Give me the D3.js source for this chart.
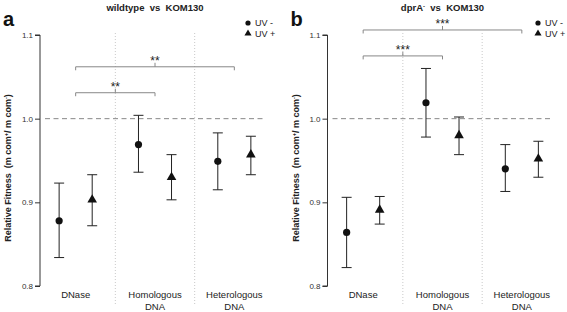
<!DOCTYPE html>
<html><head><meta charset="utf-8">
<script src="https://cdn.jsdelivr.net/npm/d3@7"></script>
<style>body{margin:0;background:#fff}svg{display:block;font-family:"Liberation Sans",Arial,sans-serif}</style>
</head><body><svg id="c" width="567" height="312"></svg>
<script>
const groups = ["DNase", "Homologous DNA", "Heterologous DNA"];
const treatments = ["UV -", "UV +"];
const yTicks = [0.8, 0.9, 1.0, 1.1];

// panel a: wildtype vs KOM130
const aMeanMinus = [0.878, 0.969, 0.949];
const aLowMinus  = [0.834, 0.936, 0.915];
const aHighMinus = [0.923, 1.004, 0.983];
const aMeanPlus  = [0.903, 0.930, 0.957];
const aLowPlus   = [0.872, 0.903, 0.933];
const aHighPlus  = [0.933, 0.957, 0.979];
const aBrackets  = [ {from:"DNase", to:"Homologous DNA", level:1.031, label:"**"},
                     {from:"DNase", to:"Heterologous DNA", level:1.062, label:"**"} ];

// panel b: dprA- vs KOM130
const bMeanMinus = [0.864, 1.019, 0.940];
const bLowMinus  = [0.822, 0.978, 0.913];
const bHighMinus = [0.906, 1.060, 0.969];
const bMeanPlus  = [0.891, 0.980, 0.952];
const bLowPlus   = [0.874, 0.957, 0.930];
const bHighPlus  = [0.907, 1.002, 0.973];
const bBrackets  = [ {from:"DNase", to:"Homologous DNA", level:1.075, label:"***"},
                     {from:"DNase", to:"Heterologous DNA", level:1.106, label:"***"} ];

const svg = d3.select("#c");
const y = d3.scaleLinear().domain([0.8, 1.1]).range([286, 35]);

function panel(ax, letter, titleParts, mm, lm, hm, mp, lp, hp, brackets, legX) {
  const g = svg.append("g");
  const x = d3.scaleBand().domain(groups).range([ax - 4, ax + 234]);
  const xi = d3.scalePoint().domain(treatments).range([0, x.bandwidth()]).padding(0.7);

  // group separators
  [groups[1], groups[2]].forEach(k => {
    g.append("line").attr("x1", x(k)).attr("x2", x(k)).attr("y1", 33).attr("y2", 305)
      .attr("stroke", "#bbb").attr("stroke-width", 0.8).attr("stroke-dasharray", "1,2");
  });
  // reference line at 1.0
  g.append("line").attr("x1", ax + 5).attr("x2", ax + 223).attr("y1", y(1)).attr("y2", y(1))
    .attr("stroke", "#888").attr("stroke-width", 1).attr("stroke-dasharray", "5,3.5");

  // axis
  const axis = d3.axisLeft(y).tickValues(yTicks).tickFormat(d3.format(".1f")).tickSize(5).tickPadding(2);
  const ag = g.append("g").attr("transform", `translate(${ax},0)`).call(axis);
  ag.select(".domain").attr("d", `M-5,${y(1.1)}H0V${y(0.8)}H-5`).attr("stroke", "#333");
  ag.selectAll(".tick line").attr("stroke", "#333");
  ag.selectAll(".tick text").attr("font-size", 8).attr("fill", "#333").attr("font-family", "Liberation Sans, Arial, sans-serif");

  // y label
  const yl = g.append("text").attr("transform", `translate(${ax - 29},${168}) rotate(-90)`)
    .attr("text-anchor", "middle").attr("font-size", 9).attr("font-weight", "bold").attr("fill", "#222")
    .attr("xml:space", "preserve");
  yl.append("tspan").text("Relative Fitness  (m com");
  yl.append("tspan").attr("baseline-shift", "super").attr("font-size", 5.5).text("+");
  yl.append("tspan").text("/ m com");
  yl.append("tspan").attr("baseline-shift", "super").attr("font-size", 5.5).text("-");
  yl.append("tspan").text(")");

  // category labels
  groups.forEach(k => {
    const parts = k.split(" ");
    parts.forEach((p, i) => {
      g.append("text").attr("x", x(k) + x.bandwidth() / 2).attr("y", 298 + i * 12)
        .attr("text-anchor", "middle").attr("font-size", 9.5).attr("fill", "#222").text(p);
    });
  });

  // data
  const series = [
    {t: "UV -", m: mm, l: lm, h: hm},
    {t: "UV +", m: mp, l: lp, h: hp}
  ];
  series.forEach(s => {
    groups.forEach((k, i) => {
      const cx = x(k) + xi(s.t);
      g.append("line").attr("x1", cx).attr("x2", cx).attr("y1", y(s.l[i])).attr("y2", y(s.h[i])).attr("stroke", "#222").attr("stroke-width", 1);
      [s.l[i], s.h[i]].forEach(v => g.append("line").attr("x1", cx - 5).attr("x2", cx + 5).attr("y1", y(v)).attr("y2", y(v)).attr("stroke", "#222").attr("stroke-width", 1));
      if (s.t === "UV -") {
        g.append("circle").attr("cx", cx).attr("cy", y(s.m[i])).attr("r", 3.6).attr("fill", "#111");
      } else {
        g.append("path").attr("transform", `translate(${cx},${y(s.m[i])})`)
          .attr("d", d3.symbol(d3.symbolTriangle, 40)()).attr("fill", "#111");
      }
    });
  });

  // significance brackets
  brackets.forEach(b => {
    const x1 = x(b.from) + x.bandwidth() / 2, x2 = x(b.to) + x.bandwidth() / 2, yy = y(b.level);
    const xm = (x1 + x2) / 2;
    g.append("path").attr("d", `M${x1},${yy + 3.5}V${yy}H${x2}V${yy + 3.5}M${xm},${yy}V${yy - 4}`)
      .attr("fill", "none").attr("stroke", "#888").attr("stroke-width", 1);
    g.append("text").attr("x", xm).attr("y", yy - 2).attr("text-anchor", "middle")
      .attr("font-size", 12).attr("fill", "#222").text(b.label);
  });

  // legend
  treatments.forEach((t, i) => {
    const ly = 23 + i * 10.5;
    if (i === 0) g.append("circle").attr("cx", legX).attr("cy", ly).attr("r", 2.6).attr("fill", "#111");
    else g.append("path").attr("transform", `translate(${legX},${ly})`).attr("d", d3.symbol(d3.symbolTriangle, 22)()).attr("fill", "#111");
    g.append("text").attr("x", legX + 7).attr("y", ly + 3.3).attr("font-size", 9).attr("fill", "#222").text(t);
  });

  // title
  const tt = g.append("text").attr("x", ax + 115).attr("y", 11).attr("text-anchor", "middle")
    .attr("font-size", 9.5).attr("font-weight", "bold").attr("fill", "#222").attr("xml:space", "preserve");
  titleParts.forEach(p => {
    const ts = tt.append("tspan").text(p.text);
    if (p.sup) ts.attr("baseline-shift", "super").attr("font-size", 6);
  });

  // panel letter
  g.append("text").attr("x", ax - 37).attr("y", 26).attr("font-size", 20).attr("font-weight", "bold").attr("fill", "#111").text(letter);
}

panel(40, "a", [{text: "wildtype  vs  KOM130"}], aMeanMinus, aLowMinus, aHighMinus, aMeanPlus, aLowPlus, aHighPlus, aBrackets, 248);
panel(327.5, "b", [{text: "dprA"}, {text: "-", sup: true}, {text: "  vs  KOM130"}], bMeanMinus, bLowMinus, bHighMinus, bMeanPlus, bLowPlus, bHighPlus, bBrackets, 538);
</script></body></html>
